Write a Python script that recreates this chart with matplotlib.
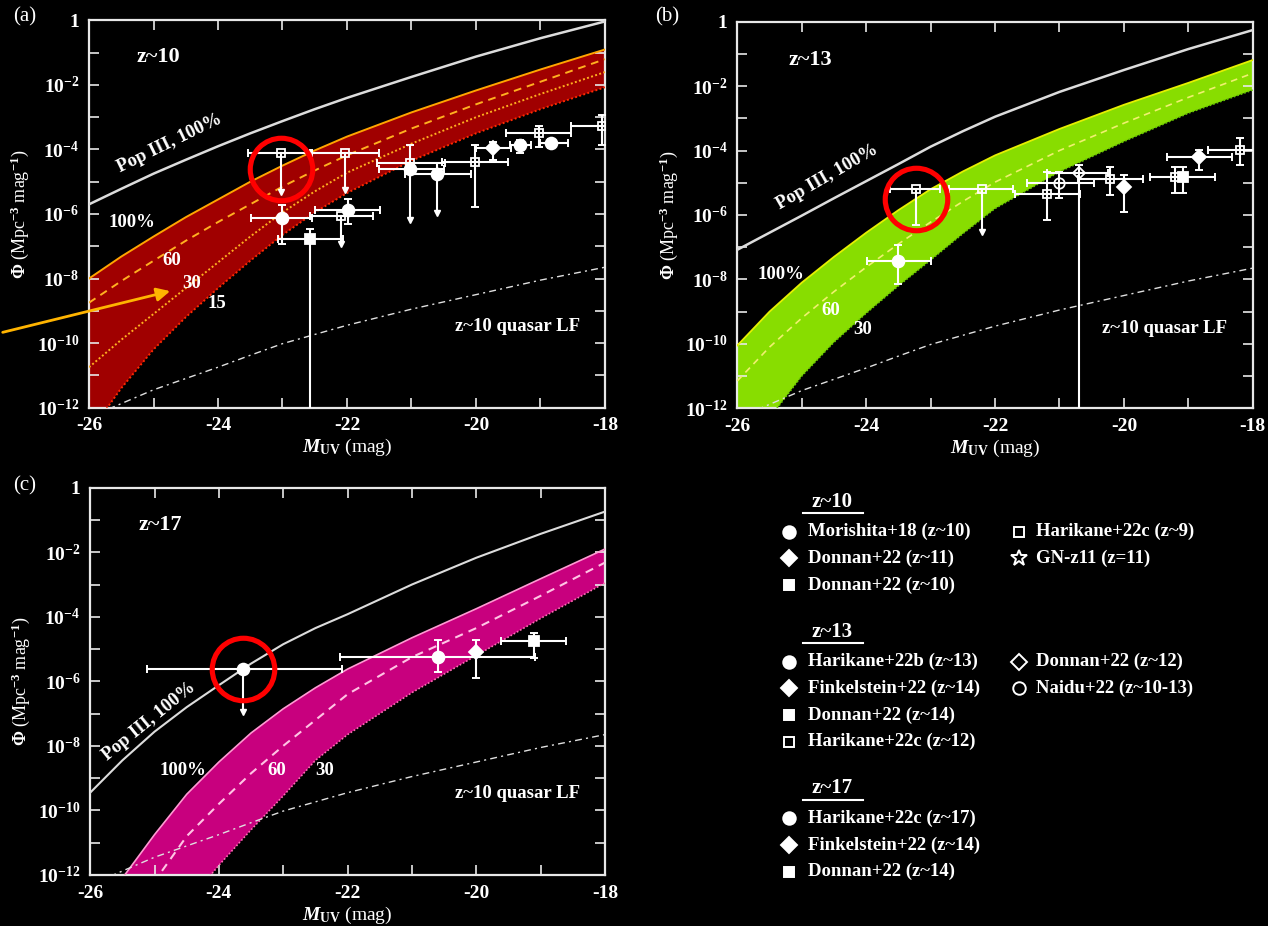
import numpy as np
import matplotlib
matplotlib.use('Agg')
import matplotlib.pyplot as plt
from matplotlib.ticker import FixedLocator, NullFormatter

# ── Fonts: Times-like serif, bold everywhere ───────────────
plt.rcParams['font.family'] = ['Liberation Serif', 'DejaVu Serif']
plt.rcParams['font.weight'] = 'bold'
plt.rcParams['mathtext.fontset'] = 'custom'
plt.rcParams['mathtext.rm'] = 'Liberation Serif:bold'
plt.rcParams['mathtext.bf'] = 'Liberation Serif:bold'
plt.rcParams['mathtext.it'] = 'Liberation Serif:italic:bold'

# ── Model curves (log10 Phi) on a common M_UV grid ─────────
MAG = [-26, -25.5, -25, -24.5, -24, -23.5, -23, -22.5, -22, -21, -20, -19, -18]

# (a) z~10
A_POP3 = [-5.70, -5.22, -4.75, -4.32, -3.90, -3.50, -3.12, -2.75, -2.40, -1.75, -1.12, -0.55, -0.03]
A_F100 = [-8.00, -7.32, -6.70, -6.10, -5.55, -5.00, -4.50, -4.03, -3.60, -2.85, -2.17, -1.52, -0.90]
A_F60 = [-8.75, -8.08, -7.45, -6.83, -6.25, -5.70, -5.15, -4.65, -4.18, -3.35, -2.60, -1.90, -1.20]
A_F30 = [-10.75, -9.90, -9.10, -8.30, -7.50, -6.70, -5.95, -5.30, -4.72, -3.82, -3.00, -2.28, -1.60]
A_F15 = [-12.80, -11.40, -10.20, -9.20, -8.30, -7.45, -6.65, -5.95, -5.35, -4.35, -3.50, -2.75, -2.07]

# (b) z~13
B_POP3 = [-7.08, -6.55, -6.02, -5.48, -4.95, -4.42, -3.88, -3.40, -2.95, -2.18, -1.50, -0.85, -0.26]
B_F100 = [-10.05, -9.00, -8.10, -7.30, -6.55, -5.85, -5.20, -4.65, -4.15, -3.33, -2.58, -1.90, -1.19]
B_F60 = [-11.15, -10.10, -9.20, -8.38, -7.62, -6.90, -6.22, -5.58, -4.98, -4.00, -3.15, -2.35, -1.60]
B_F30 = [-13.50, -12.30, -11.00, -9.95, -9.05, -8.20, -7.40, -6.58, -5.80, -4.66, -3.72, -2.84, -2.12]

# (c) z~17
C_POP3 = [-9.45, -8.45, -7.56, -6.80, -6.12, -5.45, -4.85, -4.35, -3.92, -3.00, -2.17, -1.43, -0.74]
C_F100 = [-13.80, -12.10, -10.75, -9.50, -8.50, -7.60, -6.85, -6.20, -5.62, -4.65, -3.75, -2.82, -1.90]
C_F60 = [-14.80, -13.30, -12.20, -10.80, -9.80, -8.85, -8.00, -7.20, -6.40, -5.25, -4.35, -3.35, -2.32]
C_F30 = [-17.00, -15.50, -14.10, -12.90, -11.70, -10.60, -9.55, -8.45, -7.65, -6.35, -5.20, -4.05, -2.95]

# z~10 quasar luminosity function (same in all panels)
QSO_MAG = [-25.7, -25, -24.5, -24, -23.5, -23, -22, -21, -20, -19, -18]
QSO = [-12.05, -11.45, -11.10, -10.75, -10.38, -10.02, -9.45, -8.95, -8.50, -8.05, -7.65]

# ── Observed points: M, log Phi, M range, log Phi range, marker, filled, upper limit
A_M = [-23.03, -22.03, -23.00, -22.57, -21.98, -22.10, -21.02, -21.02, -20.60, -20.02, -19.73, -19.32, -19.02, -18.84, -18.05]
A_PHI = [-4.12, -4.10, -6.11, -6.77, -5.88, -6.05, -4.43, -4.62, -4.75, -4.38, -3.95, -3.87, -3.50, -3.81, -3.28]
A_MLO = [-23.53, -22.55, -23.49, -23.07, -22.50, -22.57, -21.54, -21.50, -21.10, -20.53, -20.00, -19.47, -19.53, -19.00, -18.52]
A_MHI = [-22.57, -21.50, -22.55, -22.06, -21.49, -21.60, -20.48, -20.50, -20.07, -19.50, -19.45, -19.14, -18.52, -18.57, -17.60]
A_PLO = [-5.32, -5.26, -6.92, -13.0, -6.30, -6.92, -6.20, -4.62, -5.98, -5.78, -4.33, -4.10, -3.92, -3.95, -3.87]
A_PHI_HI = [-4.12, -4.10, -5.73, -6.45, -5.52, -6.05, -3.87, -4.62, -4.43, -3.87, -3.76, -3.72, -3.28, -3.66, -2.93]
A_MARK = ['s', 's', 'o', 's', 'o', 's', 's', 'o', 'o', 's', 'D', 'o', 's', 'o', 's']
A_FILL = [False, False, True, True, True, False, False, True, True, False, True, True, False, True, False]
A_LIM = [True, True, False, False, False, True, True, False, True, False, False, False, False, False, False]

B_M = [-23.22, -22.21, -23.50, -21.20, -21.00, -20.69, -20.21, -20.00, -19.20, -19.08, -18.84, -18.20]
B_PHI = [-5.20, -5.20, -7.42, -5.35, -5.02, -4.70, -4.89, -5.12, -4.81, -4.81, -4.19, -3.98]
B_MLO = [-23.63, -22.72, -23.99, -21.69, -21.51, -21.20, -20.71, -20.00, -19.59, -19.08, -19.33, -18.69]
B_MHI = [-22.85, -21.72, -23.00, -20.68, -20.47, -20.24, -19.70, -20.00, -18.58, -19.08, -18.33, -17.80]
B_PLO = [-6.31, -6.52, -8.14, -6.15, -5.48, -13.0, -5.38, -5.90, -5.33, -5.33, -4.60, -4.45]
B_PHI_HI = [-5.20, -5.20, -6.93, -4.66, -4.66, -4.45, -4.52, -4.76, -4.50, -4.50, -3.98, -3.62]
B_MARK = ['s', 's', 'o', 's', 'o', 'D', 's', 'D', 's', 's', 'D', 's']
B_FILL = [False, False, True, False, False, False, False, True, False, True, True, False]
B_LIM = [False, True, False, False, False, False, False, False, False, False, False, False]

C_M = [-23.62, -20.60, -20.00, -19.10]
C_PHI = [-5.62, -5.25, -5.08, -4.75]
C_MLO = [-25.11, -22.12, -20.00, -19.61]
C_MHI = [-22.09, -19.09, -20.00, -18.60]
C_PLO = [-6.94, -5.70, -5.91, -5.29]
C_PHI_HI = [-5.62, -4.72, -4.72, -4.51]
C_MARK = ['o', 'o', 'D', 's']
C_FILL = [True, True, True, True]
C_LIM = [True, False, False, False]

# highlighted measurements (M, log Phi)
HL_A = (-23.03, -4.62)
HL_B = (-23.23, -5.51)
HL_C = (-23.63, -5.62)

# ── Legend contents ─────────────────────────────────────────
LEG_TITLES = ['z~10', 'z~13', 'z~17']
LEG_LEFT = [
    [('o', True, 'Morishita+18 (z~10)'), ('D', True, 'Donnan+22 (z~11)'), ('s', True, 'Donnan+22 (z~10)')],
    [('o', True, 'Harikane+22b (z~13)'), ('D', True, 'Finkelstein+22 (z~14)'),
     ('s', True, 'Donnan+22 (z~14)'), ('s', False, 'Harikane+22c (z~12)')],
    [('o', True, 'Harikane+22c (z~17)'), ('D', True, 'Finkelstein+22 (z~14)'), ('s', True, 'Donnan+22 (z~14)')],
]
LEG_RIGHT = [
    [('s', False, 'Harikane+22c (z~9)'), ('*', False, 'GN-z11 (z=11)')],
    [('D', False, 'Donnan+22 (z~12)'), ('o', False, 'Naidu+22 (z~10-13)')],
    [],
]

W, H = 1268, 926
fig = plt.figure(figsize=(W / 100, H / 100), dpi=100, facecolor='black')


def setup_axes(rect):
    ax = fig.add_axes(rect)
    ax.set_facecolor('black')
    ax.set_xlim(-26, -18)
    ax.set_yscale('log')
    ax.set_ylim(1e-12, 1)
    for s in ax.spines.values():
        s.set_color('#e8e8e8')
        s.set_linewidth(1.6)
    ax.xaxis.set_major_locator(FixedLocator([-26, -24, -22, -20, -18]))
    ax.xaxis.set_minor_locator(FixedLocator([-25, -23, -21, -19]))
    ax.set_xticklabels(['-26', '-24', '-22', '-20', '-18'])
    ax.yaxis.set_major_locator(FixedLocator([10.0 ** k for k in range(0, -13, -2)]))
    ax.yaxis.set_minor_locator(FixedLocator([10.0 ** k for k in range(-1, -12, -2)]))
    ax.yaxis.set_minor_formatter(NullFormatter())
    ax.set_yticklabels(['1'] + [r'10$^{\mathbf{-%d}}$' % k for k in range(2, 13, 2)])
    ax.tick_params(which='both', direction='in', top=True, right=True,
                   colors='#e8e8e8', labelcolor='white', labelsize=14)
    ax.tick_params(which='major', length=7, width=1.2, pad=7)
    ax.tick_params(which='minor', length=7, width=1.2)
    ax.set_xlabel(r'$\mathit{M}_{\mathbf{UV}}$ (mag)', color='white', fontsize=14, labelpad=2)
    ax.set_ylabel(r'$\mathbf{\Phi}$ (Mpc$^{\mathbf{-3}}$ mag$^{\mathbf{-1}}$)', color='white',
                  fontsize=13, labelpad=4)
    return ax


def draw_band(ax, upper, lower, fill):
    xs = np.concatenate([MAG, MAG[::-1]])
    ys = 10.0 ** np.concatenate([upper, lower[::-1]])
    ax.fill(xs, ys, color=fill, lw=0, zorder=1)


def draw_curve(ax, x, vals, color, lw=1.3, dashes=None, z=3):
    line, = ax.plot(x, 10.0 ** np.asarray(vals), color=color, lw=lw, zorder=z)
    if dashes is not None:
        line.set_dashes(dashes)
    return line


def draw_points(ax, m, phi, mlo, mhi, plo, phi_hi, marks, fills, lims):
    for i in range(len(m)):
        y = 10.0 ** phi[i]
        xerr = [[m[i] - mlo[i]], [mhi[i] - m[i]]]
        low = 0.0 if lims[i] else y - 10.0 ** plo[i]
        yerr = [[low], [10.0 ** phi_hi[i] - y]]
        ax.errorbar([m[i]], [y], xerr=xerr, yerr=yerr, fmt='none', ecolor='white',
                    elinewidth=1.5, capsize=3, capthick=1.4, zorder=6)
        if lims[i]:
            ax.plot([m[i], m[i]], [y, 10.0 ** plo[i]], color='white', lw=1.5, zorder=6)
            ax.plot([m[i]], [10.0 ** plo[i]], marker='v', color='white', ms=5, zorder=6)
        size = {'o': 8.5, 's': 6.5, 'D': 7}[marks[i]]
        ax.plot([m[i]], [y], marker=marks[i], ms=size if fills[i] else size - 1,
                mfc='white' if fills[i] else 'none', mec='white', mew=1.3, zorder=7)


def highlight(ax, point):
    ax.plot([point[0]], [10.0 ** point[1]], marker='o', ms=45, mfc='none',
            mec='#ff0000', mew=3.7, zorder=10, clip_on=False)


def panel_text(ax, x, y, s, size=13.5, rot=0):
    ax.text(x, y, s, transform=ax.transAxes, color='white', fontsize=size,
            rotation=rot, ha='center', va='center', zorder=8)


QSO_DASH = (5, 3, 1.5, 3)

# ════════════════════════════════════════════════════════════
# (a) z~10
# ════════════════════════════════════════════════════════════
ax_a = setup_axes([0.0702, 0.5599, 0.4069, 0.418])
draw_band(ax_a, A_F100, A_F15, '#a00000')
draw_curve(ax_a, MAG, A_F100, '#ffa500', lw=1.4)
draw_curve(ax_a, MAG, A_F60, '#ffb020', lw=1.4, dashes=(4, 3))
draw_curve(ax_a, MAG, A_F30, '#ffb020', lw=1.4, dashes=(1, 1.2))
draw_curve(ax_a, MAG, A_F15, '#ff2a00', lw=1.4, dashes=(1, 1.2))
draw_curve(ax_a, MAG, A_POP3, '#dcdcdc', lw=1.8)
draw_curve(ax_a, QSO_MAG, QSO, '#e0e0e0', lw=1.0, dashes=QSO_DASH)
draw_points(ax_a, A_M, A_PHI, A_MLO, A_MHI, A_PLO, A_PHI_HI, A_MARK, A_FILL, A_LIM)
highlight(ax_a, HL_A)
panel_text(ax_a, 0.134, 0.906, 'z~10', size=16)
panel_text(ax_a, 0.157, 0.683, 'Pop III, 100%', rot=26)
panel_text(ax_a, 0.084, 0.477, '100%')
panel_text(ax_a, 0.160, 0.379, '60')
panel_text(ax_a, 0.198, 0.321, '30')
panel_text(ax_a, 0.247, 0.269, '15')
panel_text(ax_a, 0.831, 0.209, 'z~10 quasar LF')
ax_a.annotate('', xy=(-24.70, 10 ** -8.37), xycoords='data',
              xytext=(0.0, 1 - 333 / H), textcoords='figure fraction',
              arrowprops=dict(arrowstyle='-|>', color='#ffb400', lw=2, mutation_scale=20),
              annotation_clip=False, zorder=9)

# ════════════════════════════════════════════════════════════
# (b) z~13
# ════════════════════════════════════════════════════════════
ax_b = setup_axes([0.5815, 0.5591, 0.4065, 0.4175])
draw_band(ax_b, B_F100, B_F30, '#88dd00')
draw_curve(ax_b, MAG, B_F100, '#e6f000', lw=1.3)
draw_curve(ax_b, MAG, B_F60, '#f0f070', lw=1.2, dashes=(4, 3))
draw_curve(ax_b, MAG, B_F30, '#66c800', lw=1.2, dashes=(1, 1.2))
draw_curve(ax_b, MAG, B_POP3, '#dcdcdc', lw=1.8)
draw_curve(ax_b, QSO_MAG, QSO, '#e0e0e0', lw=1.0, dashes=QSO_DASH)
draw_points(ax_b, B_M, B_PHI, B_MLO, B_MHI, B_PLO, B_PHI_HI, B_MARK, B_FILL, B_LIM)
highlight(ax_b, HL_B)
panel_text(ax_b, 0.141, 0.901, 'z~13', size=16)
panel_text(ax_b, 0.175, 0.598, 'Pop III, 100%', rot=30)
panel_text(ax_b, 0.085, 0.345, '100%')
panel_text(ax_b, 0.182, 0.254, '60')
panel_text(ax_b, 0.243, 0.203, '30')
panel_text(ax_b, 0.829, 0.207, 'z~10 quasar LF')

# ════════════════════════════════════════════════════════════
# (c) z~17
# ════════════════════════════════════════════════════════════
ax_c = setup_axes([0.0711, 0.0551, 0.406, 0.4182])
draw_band(ax_c, C_F100, C_F30, '#c8007e')
draw_curve(ax_c, MAG, C_F100, '#ff9ad2', lw=1.2)
draw_curve(ax_c, MAG, C_F60, '#ffc4e4', lw=1.5, dashes=(4, 3))
draw_curve(ax_c, MAG, C_F30, '#ff70b4', lw=1.2, dashes=(1, 1.2))
draw_curve(ax_c, MAG, C_POP3, '#dcdcdc', lw=1.5)
draw_curve(ax_c, QSO_MAG, QSO, '#e0e0e0', lw=1.0, dashes=QSO_DASH)
draw_points(ax_c, C_M, C_PHI, C_MLO, C_MHI, C_PLO, C_PHI_HI, C_MARK, C_FILL, C_LIM)
highlight(ax_c, HL_C)
panel_text(ax_c, 0.136, 0.904, 'z~17', size=16)
panel_text(ax_c, 0.114, 0.396, 'Pop III, 100%', rot=39)
panel_text(ax_c, 0.180, 0.271, '100%')
panel_text(ax_c, 0.362, 0.271, '60')
panel_text(ax_c, 0.456, 0.271, '30')
panel_text(ax_c, 0.831, 0.211, 'z~10 quasar LF')

# panel letters
for txt, x, y in [('(a)', 25, 17), ('(b)', 667, 17), ('(c)', 25, 486)]:
    fig.text(x / W, 1 - y / H, txt, color='white', fontsize=15, fontweight='normal',
             ha='center', va='center')

# ════════════════════════════════════════════════════════════
# Legend block (pixel coordinates)
# ════════════════════════════════════════════════════════════
lax = fig.add_axes([0, 0, 1, 1])
lax.set_xlim(0, W)
lax.set_ylim(H, 0)
lax.axis('off')
lax.patch.set_alpha(0)

group_y = [501.7, 631.7, 788.3]
row_step = 26.6
for g, title in enumerate(LEG_TITLES):
    y0 = group_y[g]
    lax.text(832, y0, title, color='white', fontsize=15, ha='center', va='center')
    lax.plot([803, 863], [y0 + 11.5, y0 + 11.5], color='white', lw=1.5)
    for col, (entries, mx, tx) in enumerate([(LEG_LEFT[g], 789, 808), (LEG_RIGHT[g], 1019, 1036)]):
        for r, (mk, filled, label) in enumerate(entries):
            yy = y0 + 30 + r * row_step
            size = {'o': 9, 's': 7, 'D': 8, '*': 12}[mk]
            lax.plot([mx], [yy], marker=mk, ms=size, mfc='white' if filled else 'none',
                     mec='white', mew=1.4)
            lax.text(tx, yy, label, color='white', fontsize=13.5, ha='left', va='center')

fig.savefig('out.png', dpi=100, facecolor='black')
